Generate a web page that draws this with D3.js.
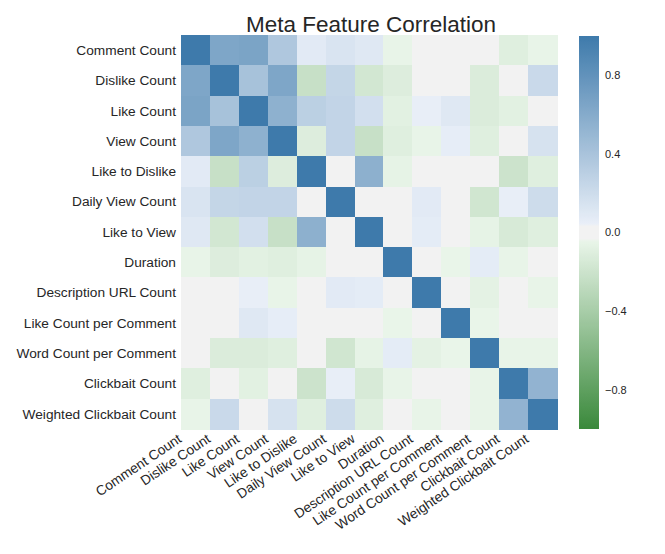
<!DOCTYPE html>
<html>
<head>
<meta charset="utf-8">
<script src="https://cdn.jsdelivr.net/npm/d3@7"></script>
<style>
  body { margin: 0; background: #fff; }
  text { font-family: "Liberation Sans", Arial, sans-serif; fill: #262626; }
</style>
</head>
<body>
<svg width="665" height="554"></svg>
<script>
// feature names, same order on both axes
var features = ['Comment Count', 'Dislike Count', 'Like Count', 'View Count', 'Like to Dislike',
  'Daily View Count', 'Like to View', 'Duration', 'Description URL Count',
  'Like Count per Comment', 'Word Count per Comment', 'Clickbait Count', 'Weighted Clickbait Count']

// correlation matrix (rows follow features)
var corr = [
  [1.00, 0.64, 0.66, 0.37, 0.08, 0.13, 0.10, -0.05, 0.00, 0.00, 0.00, -0.10, -0.05],
  [0.64, 1.00, 0.41, 0.64, -0.23, 0.25, -0.17, -0.11, 0.00, 0.00, -0.12, 0.00, 0.22],
  [0.66, 0.41, 1.00, 0.55, 0.30, 0.26, 0.17, -0.08, 0.05, 0.10, -0.12, -0.08, 0.00],
  [0.37, 0.64, 0.55, 1.00, -0.11, 0.26, -0.23, -0.10, -0.05, 0.06, -0.10, 0.00, 0.15],
  [0.08, -0.23, 0.30, -0.11, 1.00, 0.00, 0.56, -0.06, 0.00, 0.00, 0.00, -0.20, -0.10],
  [0.13, 0.25, 0.26, 0.26, 0.00, 1.00, 0.00, 0.00, 0.08, 0.00, -0.18, 0.05, 0.20],
  [0.10, -0.17, 0.17, -0.23, 0.56, 0.00, 1.00, 0.00, 0.07, 0.00, -0.06, -0.14, -0.10],
  [-0.05, -0.11, -0.08, -0.10, -0.06, 0.00, 0.00, 1.00, 0.00, -0.045, 0.07, -0.05, 0.00],
  [0.00, 0.00, 0.05, -0.05, 0.00, 0.08, 0.07, 0.00, 1.00, 0.00, -0.07, 0.00, -0.05],
  [0.00, 0.00, 0.10, 0.06, 0.00, 0.00, 0.00, -0.045, 0.00, 1.00, -0.045, 0.00, 0.00],
  [0.00, -0.12, -0.12, -0.10, 0.00, -0.18, -0.06, 0.07, -0.07, -0.045, 1.00, -0.05, -0.05],
  [-0.10, 0.00, -0.08, 0.00, -0.20, 0.05, -0.14, -0.05, 0.00, 0.00, -0.05, 1.00, 0.53],
  [-0.05, 0.22, 0.00, 0.15, -0.10, 0.20, -0.10, 0.00, -0.05, 0.00, -0.05, 0.53, 1.00]
]

var cbarTicks = [0.8, 0.4, 0.0, -0.4, -0.8]

var svg = d3.select('svg')
var mLeft = 181, mRight = 557, mTop = 35, mBottom = 429

var x = d3.scaleBand().domain(features).range([mLeft, mRight])
var y = d3.scaleBand().domain(features).range([mTop, mBottom])

// green -> pale -> grey band -> pale -> blue (seaborn diverging palette, sep=10)
var color = d3.scaleLinear()
  .domain([-1, -0.043, -0.035, 0.035, 0.043, 1])
  .range(['#3a893b', '#e9f5e9', '#f2f2f2', '#f2f2f2', '#e9eff8', '#3e7aab'])
  .interpolate(d3.interpolateRgb)
  .clamp(true)

var cells = []
corr.forEach(function (row, i) {
  row.forEach(function (v, j) {
    cells.push({ r: features[i], c: features[j], v: v })
  })
})

svg.append('g')
  .attr('shape-rendering', 'crispEdges')
  .selectAll('rect')
  .data(cells)
  .enter()
  .append('rect')
  .attr('x', d => x(d.c))
  .attr('y', d => y(d.r))
  .attr('width', x.bandwidth() + 0.5)
  .attr('height', y.bandwidth() + 0.5)
  .attr('fill', d => color(d.v))

// y labels
svg.append('g')
  .selectAll('text')
  .data(features)
  .enter()
  .append('text')
  .attr('x', mLeft - 5)
  .attr('y', d => y(d) + y.bandwidth() / 2)
  .attr('dy', '0.35em')
  .attr('text-anchor', 'end')
  .style('font-size', '13.7px')
  .text(d => d)

// x labels, rotated
svg.append('g')
  .selectAll('text')
  .data(features)
  .enter()
  .append('text')
  .attr('transform', d => 'translate(' + (x(d) + x.bandwidth() / 2 - 13) + ',' + (mBottom + 12) + ') rotate(-34)')
  .attr('text-anchor', 'end')
  .style('font-size', '13.7px')
  .text(d => d)

// title
svg.append('text')
  .attr('x', 371)
  .attr('y', 32)
  .attr('text-anchor', 'middle')
  .style('font-size', '22.5px')
  .text('Meta Feature Correlation')

// colorbar
var cb = d3.scaleLinear().domain([1, -1]).range([mTop + 1, mBottom])
var grad = svg.append('defs').append('linearGradient')
  .attr('id', 'cbar')
  .attr('x1', 0).attr('y1', 0).attr('x2', 0).attr('y2', 1)
grad.selectAll('stop')
  .data(d3.range(0, 1.0001, 0.004))
  .enter()
  .append('stop')
  .attr('offset', d => d)
  .attr('stop-color', d => color(1 - 2 * d))

svg.append('rect')
  .attr('x', 579)
  .attr('y', cb(1))
  .attr('width', 20)
  .attr('height', cb(-1) - cb(1))
  .attr('fill', 'url(#cbar)')

svg.append('g')
  .selectAll('text')
  .data(cbarTicks)
  .enter()
  .append('text')
  .attr('x', 605)
  .attr('y', d => cb(d))
  .attr('dy', '0.35em')
  .style('font-size', '11px')
  .text(d => d3.format('.1f')(d).replace('-', '\u2212'))
</script>
</body>
</html>
